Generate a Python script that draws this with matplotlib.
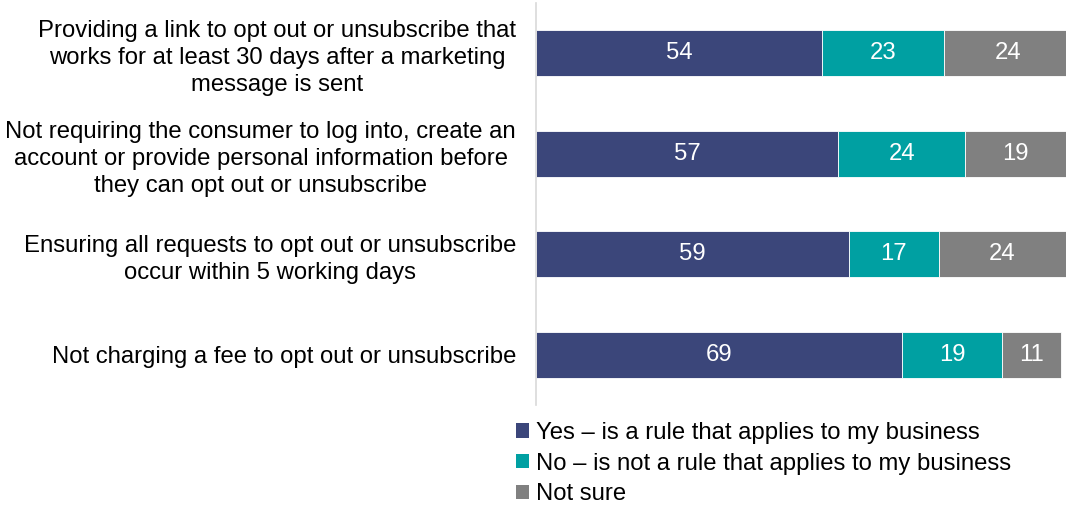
import matplotlib
matplotlib.use("Agg")
import matplotlib.pyplot as plt
from matplotlib.patches import Patch

categories = [
    "Providing a link to opt out or unsubscribe that\nworks for at least 30 days after a marketing\nmessage is sent",
    "Not requiring the consumer to log into, create an\naccount or provide personal information before\nthey can opt out or unsubscribe",
    "Ensuring all requests to opt out or unsubscribe\noccur within 5 working days",
    "Not charging a fee to opt out or unsubscribe",
]
yes_vals = [54, 57, 59, 69]
no_vals = [23, 24, 17, 19]
notsure_vals = [24, 19, 24, 11]
series_names = [
    "Yes \u2013 is a rule that applies to my business",
    "No \u2013 is not a rule that applies to my business",
    "Not sure",
]
colors = ["#3B467A", "#00A0A2", "#808080"]

plt.rcParams['font.family'] = ['Liberation Sans', 'DejaVu Sans']
FS = 17.2

fig = plt.figure(figsize=(10.66, 5.05), dpi=100)
ax = fig.add_axes([536/1066, 1-405/505, (1066-536)/1066, 402/505])

ypos = list(range(len(categories)))
left = [0]*len(categories)
for vals, col in zip([yes_vals, no_vals, notsure_vals], colors):
    ax.barh(ypos, vals, left=left, height=0.46, color=col,
            edgecolor='white', linewidth=0.6)
    for y, l, v in zip(ypos, left, vals):
        ax.text(l + v/2, y, str(v), ha='center', va='center',
                color='white', fontsize=FS)
    left = [a + b for a, b in zip(left, vals)]

ax.set_xlim(0, 100)
ax.set_ylim(len(categories)-0.5, -0.5)
ax.set_xticks([])
ax.set_yticks(ypos)
ax.set_yticklabels(categories, fontsize=FS, multialignment='center',
                   linespacing=1.3)
ax.tick_params(axis='y', length=0, pad=14.4)
for s in ['top', 'right', 'bottom']:
    ax.spines[s].set_visible(False)
ax.spines['left'].set_color('#D9D9D9')
ax.spines['left'].set_linewidth(1.2)

handles = [Patch(facecolor=c, edgecolor='none') for c in colors]
fig.legend(handles, series_names, loc='upper left',
           bbox_to_anchor=(516/1066, 1-422/505), frameon=False,
           fontsize=FS, handlelength=0.55, handleheight=0.55,
           handletextpad=0.3, labelspacing=0.36, borderaxespad=0,
           borderpad=0)

fig.savefig("out.png", dpi=100)
